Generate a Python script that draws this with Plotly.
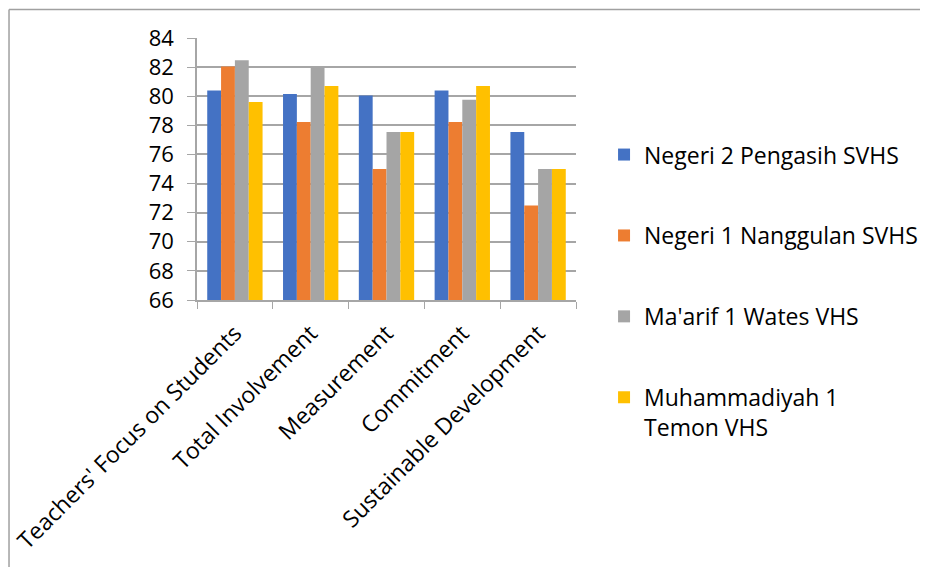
import plotly.graph_objects as go

categories = ["Teachers' Focus on Students", "Total Involvement", "Measurement",
              "Commitment", "Sustainable Development"]
series_names = ["Negeri 2 Pengasih SVHS", "Negeri 1 Nanggulan SVHS",
                "Ma'arif 1 Wates VHS", "Muhammadiyah 1<br>Temon VHS"]
negeri2 = [80.4, 80.15, 80.05, 80.4, 77.55]
negeri1 = [82.05, 78.23, 75.0, 78.23, 72.5]
maarif = [82.47, 82.0, 77.55, 79.75, 75.0]
muham = [79.6, 80.7, 77.55, 80.7, 75.0]
colors = ["#4472C4", "#ED7D31", "#A5A5A5", "#FFC000"]
y_ticks = list(range(66, 85, 2))

FONT = "Open Sans"
fig = go.Figure()
for i, (name, vals) in enumerate(zip(series_names, [negeri2, negeri1, maarif, muham])):
    fig.add_trace(go.Bar(x=categories, y=vals, name=name, marker_color=colors[i],
                         marker_line_width=0, legendgroup=f"g{i}"))

fig.update_layout(
    width=928, height=567,
    margin=dict(l=189, r=360, t=30, b=275, autoexpand=False),
    paper_bgcolor="white", plot_bgcolor="white",
    font=dict(family=FONT, size=22, color="#000000"),
    barmode="group", bargap=0.27, bargroupgap=0,
    legend=dict(x=1.074, xanchor="left", y=0.637, yanchor="top",
                traceorder="grouped", tracegroupgap=48, maxheight=560,
                font=dict(family=FONT, size=23, color="#000000"),
                itemwidth=30, valign="top"),
    showlegend=True,
)
fig.update_yaxes(range=[66, 84], tickvals=y_ticks, showgrid=True,
                 gridcolor="#A6A6A6", gridwidth=1.5, showline=True,
                 linecolor="#A6A6A6", linewidth=1.5, ticks="outside",
                 ticklen=8, tickcolor="#A6A6A6", zeroline=False,
                 tickfont=dict(size=22), ticklabelstandoff=9)
fig.update_xaxes(showline=True, linecolor="#A6A6A6", linewidth=1.5,
                 ticks="outside", tickson="boundaries", ticklen=7,
                 tickcolor="#A6A6A6", tickangle=-45, tickfont=dict(size=23),
                 ticklabelstandoff=9, mirror=False)
# image frame (left and top edges)
fig.add_shape(type="line", xref="paper", yref="paper", x0=-0.496, x1=-0.496,
              y0=-1.2, y1=1.109, line=dict(color="#A0A0A0", width=1.5))
fig.add_shape(type="line", xref="paper", yref="paper", x0=-0.496, x1=2.0,
              y0=1.109, y1=1.109, line=dict(color="#A0A0A0", width=1.5))
fig.write_html("out.html")
